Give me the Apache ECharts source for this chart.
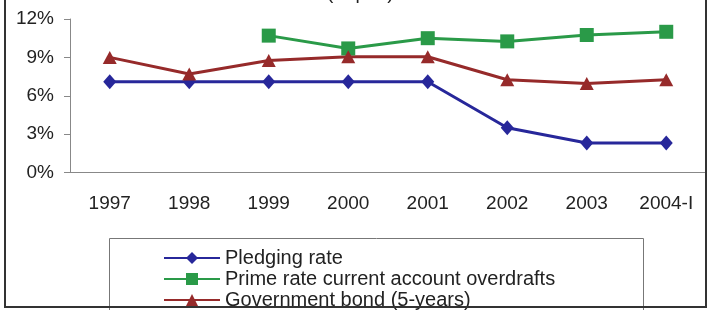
<!DOCTYPE html>
<html>
<head>
<meta charset="utf-8">
<script src="https://cdn.jsdelivr.net/npm/echarts@6/dist/echarts.min.js"></script>
<style>
  html, body { margin: 0; padding: 0; background: #fff; }
  #main { width: 709px; height: 310px; }
</style>
</head>
<body>
<div id="main"></div>
<script>
var chart = echarts.init(document.getElementById("main"));

// years on the x axis
var years = ["1997", "1998", "1999", "2000", "2001", "2002", "2003", "2004-I"];
// rates in percent
var pledgingRate = [7.1, 7.1, 7.1, 7.1, 7.1, 3.5, 2.3, 2.3];
var primeRate = [null, null, 10.7, 9.7, 10.5, 10.25, 10.75, 11.0];
var govBond = [9.0, 7.7, 8.75, 9.05, 9.05, 7.25, 6.95, 7.25];
var seriesNames = [
  "Pledging rate",
  "Prime rate current account overdrafts",
  "Government bond (5-years)"
];
var yTicks = [0, 3, 6, 9, 12];

var font = "'Liberation Sans', Arial, sans-serif";

var option = {
  animation: false,
  title: {
    text: "(% p.a.)",
    left: 322,
    top: -21,
    textStyle: { fontFamily: font, fontSize: 19, fontWeight: "normal", color: "#222" }
  },
  grid: { left: 70, top: 19, width: 636, height: 153.5 },
  legend: {
    orient: "vertical",
    left: 163,
    top: 248,
    padding: 0,
    itemWidth: 56,
    itemHeight: 15,
    itemGap: 1,
    textStyle: { fontFamily: font, fontSize: 20, color: "#222", lineHeight: 18.5 },
    data: seriesNames
  },
  graphic: [
    {
      type: "rect",
      shape: { x: 109.5, y: 238.5, width: 534, height: 80 },
      style: { fill: "none", stroke: "#777", lineWidth: 1 },
      z: -1
    },
    {
      type: "rect",
      shape: { x: 5, y: -5, width: 701, height: 312 },
      style: { fill: "none", stroke: "#333", lineWidth: 2 },
      z: 10
    }
  ],
  xAxis: {
    type: "category",
    data: years,
    boundaryGap: true,
    axisLine: { lineStyle: { color: "#888", width: 1 } },
    axisTick: { length: 5, lineStyle: { color: "#888" } },
    axisLabel: { fontFamily: font, fontSize: 19, color: "#222", margin: 22 }
  },
  yAxis: {
    type: "value",
    min: yTicks[0],
    max: yTicks[yTicks.length - 1],
    interval: 3,
    splitLine: { show: false },
    axisLine: { show: true, lineStyle: { color: "#888", width: 1 } },
    axisTick: { show: true, length: 6, lineStyle: { color: "#888" } },
    axisLabel: { formatter: "{value}%", fontFamily: font, fontSize: 19, color: "#222", margin: 16 }
  },
  series: [
    {
      name: seriesNames[0],
      type: "line",
      data: pledgingRate,
      symbol: "diamond",
      symbolSize: [13, 15],
      itemStyle: { color: "#27279a" },
      lineStyle: { width: 3, color: "#27279a" }
    },
    {
      name: seriesNames[1],
      type: "line",
      data: primeRate,
      symbol: "rect",
      symbolSize: 14,
      itemStyle: { color: "#2a9a48" },
      lineStyle: { width: 3, color: "#2a9a48" }
    },
    {
      name: seriesNames[2],
      type: "line",
      data: govBond,
      symbol: "triangle",
      symbolSize: [14, 13],
      itemStyle: { color: "#962a2a" },
      lineStyle: { width: 3, color: "#962a2a" }
    }
  ]
};

chart.setOption(option);
window.onresize = chart.resize;
</script>
</body>
</html>
